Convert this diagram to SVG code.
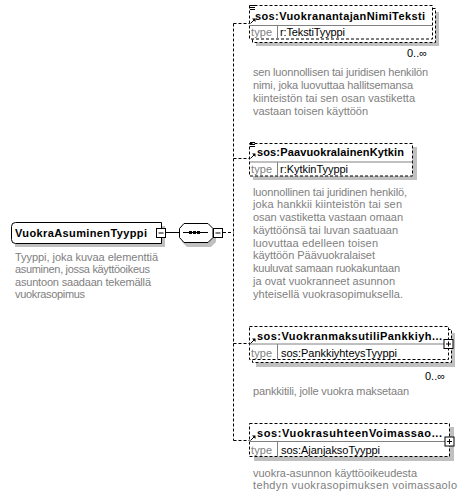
<svg xmlns="http://www.w3.org/2000/svg" width="467" height="495" viewBox="0 0 467 495">
<style>
text{font-family:"Liberation Sans",Arial,sans-serif;font-size:11px}
.b{font-weight:bold;fill:#000}
.d{fill:#808080}
.v{fill:#000}
.box{fill:#fff;stroke:#000;stroke-dasharray:3,2}
.sh{fill:#c0c0c0}
.sep{stroke:#808080;fill:none}
.con{stroke:#000;fill:none;stroke-dasharray:3,2}
.sol{stroke:#000;fill:none}
.wb{fill:#fff;stroke:#000}
</style>
<defs>
<g id="ref"><path d="M0.5,5.5 L4,2" stroke="#000" fill="none"/><polygon points="2,0.5 5.5,0.5 5.5,4" fill="#000"/></g>
<g id="lst" stroke="#000"><path d="M0,0.5H5M0,2.5H5M0,4.5H5"/></g>
<g id="plus"><rect x="0.5" y="0.5" width="9" height="9" class="wb"/><path d="M2.5,5H7.5M5,2.5V7.5" stroke="#000"/></g>
<g id="minus"><rect x="0.5" y="0.5" width="9" height="9" class="wb"/><path d="M2.5,5H7.5" stroke="#000"/></g>
</defs>
<rect width="467" height="495" fill="#fff"/>

<g id="connectors">
<line x1="166" y1="232.5" x2="179" y2="232.5" class="sol"/>
<line x1="223" y1="232.5" x2="233.5" y2="232.5" class="con"/>
<line x1="233.5" y1="23.5" x2="233.5" y2="440.5" class="con"/>
<line x1="233.5" y1="23.5" x2="250" y2="23.5" class="con"/>
<line x1="233.5" y1="158.5" x2="250" y2="158.5" class="con"/>
<line x1="233.5" y1="343.5" x2="250" y2="343.5" class="con"/>
<line x1="233.5" y1="440.5" x2="250" y2="440.5" class="con"/>
</g>

<g id="main">
<path d="M15,226 H165 V247 H15 Z" class="sh"/>
<path d="M15.5,222.5 H161.5 V243.5 H15.5 Q11.5,243.5 11.5,239.5 V226.5 Q11.5,222.5 15.5,222.5 Z" class="wb"/>
<text x="15" y="236.5" class="b" textLength="132">VuokraAsuminenTyyppi</text>
<use href="#minus" x="156" y="228"/>
<text class="d"><tspan x="15" y="260.5" textLength="143">Tyyppi, joka kuvaa elementtiä</tspan><tspan x="15" y="273" textLength="135">asuminen, jossa käyttöoikeus</tspan><tspan x="15" y="285.5" textLength="136">asuntoon saadaan tekemällä</tspan><tspan x="15" y="298" textLength="70">vuokrasopimus</tspan></text>
</g>

<g id="sequence">
<path d="M187,227 H211 L216,232 V242 L211,247 H187 L182,242 V232 Z" class="sh"/>
<path d="M184,223.5 H208 L213,228.5 V237.5 L208,242.5 H184 L179.5,237.5 V228.5 Z" class="wb"/>
<line x1="183" y1="232.5" x2="208" y2="232.5" class="sol"/>
<rect x="189" y="231" width="3" height="3" fill="#000"/>
<rect x="193" y="231" width="3" height="3" fill="#000"/>
<rect x="197" y="231" width="3" height="3" fill="#000"/>
<use href="#minus" x="213" y="228"/>
</g>

<g id="node1">
<rect x="256" y="12" width="183" height="34" class="sh"/>
<rect x="252.5" y="8.5" width="183" height="34" class="box"/>
<rect x="249.5" y="5.5" width="183" height="33.5" class="box"/>
<line x1="249.5" y1="25.5" x2="432.5" y2="25.5" class="sep"/>
<line x1="277.5" y1="25.5" x2="277.5" y2="39" class="sep"/>
<text x="255" y="20" class="b" textLength="170">sos:VuokranantajanNimiTeksti</text>
<text x="251" y="36" class="d" textLength="21">type</text>
<text x="280" y="36" class="v" textLength="65">r:TekstiTyyppi</text>
<use href="#lst" x="250" y="5"/>
<use href="#ref" x="250" y="18"/>
<text x="407" y="57" class="v">0..∞</text>
<text class="d"><tspan x="253" y="75.5" textLength="175">sen luonnollisen tai juridisen henkilön</tspan><tspan x="253" y="88.5" textLength="160">nimi, joka luovuttaa hallitsemansa</tspan><tspan x="253" y="101.5" textLength="162">kiinteistön tai sen osan vastiketta</tspan><tspan x="253" y="114.5" textLength="115">vastaan toisen käyttöön</tspan></text>
</g>

<g id="node2">
<rect x="253" y="147" width="164" height="33" class="sh"/>
<rect x="249.5" y="143.5" width="163" height="32.5" class="box"/>
<line x1="249.5" y1="162" x2="412.5" y2="162" class="sep"/>
<line x1="277.5" y1="162" x2="277.5" y2="176" class="sep"/>
<text x="257" y="156" class="b" textLength="147">sos:PaavuokralainenKytkin</text>
<text x="251" y="173" class="d" textLength="21">type</text>
<text x="280" y="173" class="v" textLength="68">r:KytkinTyyppi</text>
<use href="#lst" x="250" y="142"/>
<use href="#ref" x="250" y="153"/>
<text class="d"><tspan x="253" y="195.5" textLength="154">luonnollinen tai juridinen henkilö,</tspan><tspan x="253" y="208.3" textLength="149">joka hankkii kiinteistön tai sen</tspan><tspan x="253" y="221" textLength="150">osan vastiketta vastaan omaan</tspan><tspan x="253" y="233.8" textLength="145">käyttöönsä tai luvan saatuaan</tspan><tspan x="253" y="246.5" textLength="125">luovuttaa edelleen toisen</tspan><tspan x="253" y="259.3" textLength="122">käyttöön Päävuokralaiset</tspan><tspan x="253" y="272" textLength="147">kuuluvat samaan ruokakuntaan</tspan><tspan x="253" y="284.8" textLength="142">ja ovat vuokranneet asunnon</tspan><tspan x="253" y="297.5" textLength="150">yhteisellä vuokrasopimuksella.</tspan></text>
</g>

<g id="node3">
<rect x="256" y="333" width="199" height="34" class="sh"/>
<rect x="252.5" y="329.5" width="199" height="33" class="box"/>
<rect x="249.5" y="326.5" width="199" height="33" class="box"/>
<line x1="249.5" y1="344" x2="448.5" y2="344" class="sep"/>
<line x1="277.5" y1="344" x2="277.5" y2="359.5" class="sep"/>
<text x="257" y="339.5" class="b" textLength="185">sos:VuokranmaksutiliPankkiyh...</text>
<text x="251" y="356.5" class="d" textLength="21">type</text>
<text x="281" y="356.5" class="v" textLength="116">sos:PankkiyhteysTyyppi</text>
<use href="#ref" x="250" y="338"/>
<use href="#plus" x="443.5" y="339"/>
<text x="425" y="380" class="v">0..∞</text>
<text x="253" y="394.5" class="d" textLength="156">pankkitili, jolle vuokra maksetaan</text>
</g>

<g id="node4">
<rect x="254" y="427" width="200" height="34" class="sh"/>
<rect x="249.5" y="423.5" width="200" height="33" class="box"/>
<line x1="249.5" y1="441.5" x2="449.5" y2="441.5" class="sep"/>
<line x1="277.5" y1="441.5" x2="277.5" y2="456.5" class="sep"/>
<text x="257" y="437" class="b" textLength="185">sos:VuokrasuhteenVoimassao...</text>
<text x="251" y="454" class="d" textLength="21">type</text>
<text x="281" y="454" class="v" textLength="99">sos:AjanjaksoTyyppi</text>
<use href="#ref" x="250" y="435"/>
<use href="#plus" x="444.5" y="436.5"/>
<text class="d"><tspan x="253" y="476.5" textLength="164">vuokra-asunnon käyttöoikeudesta</tspan><tspan x="253" y="488.5" textLength="204">tehdyn vuokrasopimuksen voimassaolo</tspan></text>
</g>
</svg>
